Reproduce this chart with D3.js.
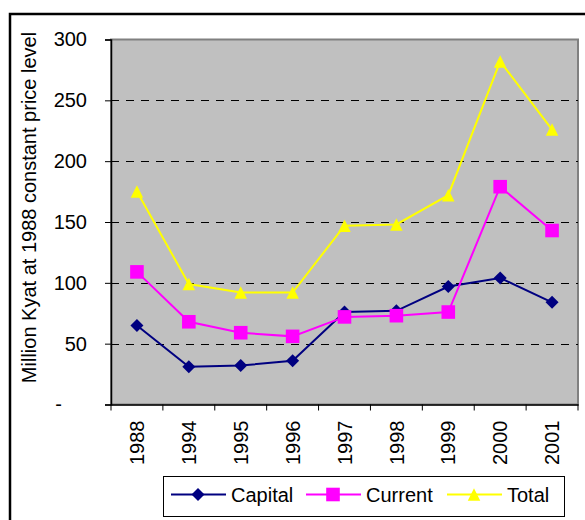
<!DOCTYPE html>
<html>
<head>
<meta charset="utf-8">
<script src="https://cdn.jsdelivr.net/npm/d3@7"></script>
<style>
  body { margin: 0; background: #fff; }
  svg { display: block; font-family: Arial, "Liberation Sans", sans-serif; }
</style>
</head>
<body>
<script>
const years = ["1988", "1994", "1995", "1996", "1997", "1998", "1999", "2000", "2001"];
const capital = [65, 31, 32, 36, 76, 77, 97, 104, 84];
const current = [109, 68, 59, 56, 72, 73, 76, 179, 143];
const total = [175, 99, 92, 92, 147, 148, 172, 282, 226];
const yTicks = [0, 50, 100, 150, 200, 250, 300];
const seriesNames = ["Capital", "Current", "Total"];

const width = 585, height = 520;
const plot = {left: 111, top: 39.5, right: 578, bottom: 404.5};

// Excel-style diamond: a square turned 45 degrees, equal width and height
const symbolExcelDiamond = {
  draw(context, size) {
    const h = Math.sqrt(size / 2);
    context.moveTo(0, -h);
    context.lineTo(h, 0);
    context.lineTo(0, h);
    context.lineTo(-h, 0);
    context.closePath();
  }
};
// Excel-style triangle: base equals height, centred on its box
const symbolExcelTriangle = {
  draw(context, size) {
    const h = Math.sqrt(size * 2) / 2;
    context.moveTo(0, -h);
    context.lineTo(h, h);
    context.lineTo(-h, h);
    context.closePath();
  }
};

const svg = d3.select("body").append("svg")
    .attr("width", width)
    .attr("height", height)
    .attr("viewBox", [0, 0, width, height]);

// outer chart frame (runs off the picture on right and bottom)
svg.append("rect")
    .attr("x", 10).attr("y", 14)
    .attr("width", 640).attr("height", 600)
    .attr("fill", "none")
    .attr("stroke", "#000")
    .attr("stroke-width", 2.5);

const x = d3.scaleBand(years, [plot.left, plot.right]);
const y = d3.scaleLinear([0, 300], [plot.bottom, plot.top]);

// plot area
svg.append("rect")
    .attr("x", plot.left).attr("y", plot.top)
    .attr("width", plot.right - plot.left)
    .attr("height", plot.bottom - plot.top)
    .attr("fill", "#c0c0c0")
    .attr("stroke", "#808080")
    .attr("stroke-width", 2);

// dashed gridlines
svg.append("g")
  .selectAll("line")
  .data(yTicks.filter(d => d > 0 && d < 300))
  .join("line")
    .attr("x1", plot.left).attr("x2", plot.right)
    .attr("y1", d => Math.round(y(d)) + 0.5)
    .attr("y2", d => Math.round(y(d)) + 0.5)
    .attr("stroke", "#000")
    .attr("stroke-dasharray", "8,7")
    .attr("shape-rendering", "crispEdges");

// y axis
const yAxis = svg.append("g")
    .attr("transform", `translate(${plot.left},0)`)
    .call(d3.axisLeft(y).tickValues(yTicks).tickSize(6).tickPadding(18)
      .tickFormat(d => d === 0 ? "-" : d));
yAxis.select(".domain").attr("stroke", "#000").attr("stroke-width", 1.5);
yAxis.selectAll("text")
    .attr("font-size", 20)
    .attr("font-family", "Arial, 'Liberation Sans', sans-serif")
    .attr("fill", "#000");
yAxis.selectAll(".tick")
    .filter(d => d === 0)
    .select("text")
    .attr("x", -49);

// x axis: labels at band centres, tick marks on band edges
const xAxis = svg.append("g")
    .attr("transform", `translate(0,${plot.bottom})`)
    .call(d3.axisBottom(x).tickSize(0).tickSizeOuter(0));
xAxis.select(".domain").attr("stroke", "#000").attr("stroke-width", 1.5);
xAxis.selectAll("text")
    .attr("font-size", 20)
    .attr("font-family", "Arial, 'Liberation Sans', sans-serif")
    .attr("fill", "#000")
    .attr("transform", "rotate(-90)")
    .attr("text-anchor", "end")
    .attr("x", -16)
    .attr("y", 0)
    .attr("dy", "0.36em");
xAxis.append("g")
  .selectAll("line")
  .data(years.map(d => x(d)).concat(plot.right))
  .join("line")
    .attr("x1", d => d).attr("x2", d => d)
    .attr("y1", 0).attr("y2", 6)
    .attr("stroke", "#000");

// y title
svg.append("text")
    .attr("transform", "translate(35.5,207.5) rotate(-90)")
    .attr("text-anchor", "middle")
    .attr("font-size", 20)
    .text("Million Kyat at 1988 constant price level");

// series
const series = [
  {name: seriesNames[0], values: capital, color: "#000080", symbol: symbolExcelDiamond, size: 85},
  {name: seriesNames[1], values: current, color: "#ff00ff", symbol: d3.symbolSquare, size: 185},
  {name: seriesNames[2], values: total, color: "#ffff00", symbol: symbolExcelTriangle, size: 78}
];

const line = d3.line()
    .x((d, i) => x(years[i]) + x.bandwidth() / 2)
    .y(d => y(d));

const sg = svg.append("g")
  .selectAll("g")
  .data(series)
  .join("g");

sg.append("path")
    .attr("d", d => line(d.values))
    .attr("fill", "none")
    .attr("stroke", d => d.color)
    .attr("stroke-width", 2);

sg.each(function(s) {
  d3.select(this).selectAll("path.mark")
    .data(s.values)
    .join("path")
      .attr("class", "mark")
      .attr("transform", (d, i) => `translate(${x(years[i]) + x.bandwidth() / 2},${y(d)})`)
      .attr("d", d3.symbol(s.symbol, s.size))
      .attr("fill", s.color);
});

// legend
const legend = svg.append("g");
legend.append("rect")
    .attr("x", 163.5).attr("y", 476.5)
    .attr("width", 401).attr("height", 40)
    .attr("fill", "#fff")
    .attr("stroke", "#000");

const legendX = [171, 306, 447];
const li = legend.selectAll("g")
  .data(series)
  .join("g")
    .attr("transform", (d, i) => `translate(${legendX[i]},494.5)`);
li.append("line")
    .attr("x1", 0).attr("x2", 55)
    .attr("stroke", d => d.color)
    .attr("stroke-width", 2);
li.append("path")
    .attr("transform", "translate(27,0)")
    .attr("d", d => d3.symbol(d.symbol, d.size)())
    .attr("fill", d => d.color);
li.append("text")
    .attr("x", 60)
    .attr("dy", "0.35em")
    .attr("font-size", 20)
    .text(d => d.name);
</script>
</body>
</html>
